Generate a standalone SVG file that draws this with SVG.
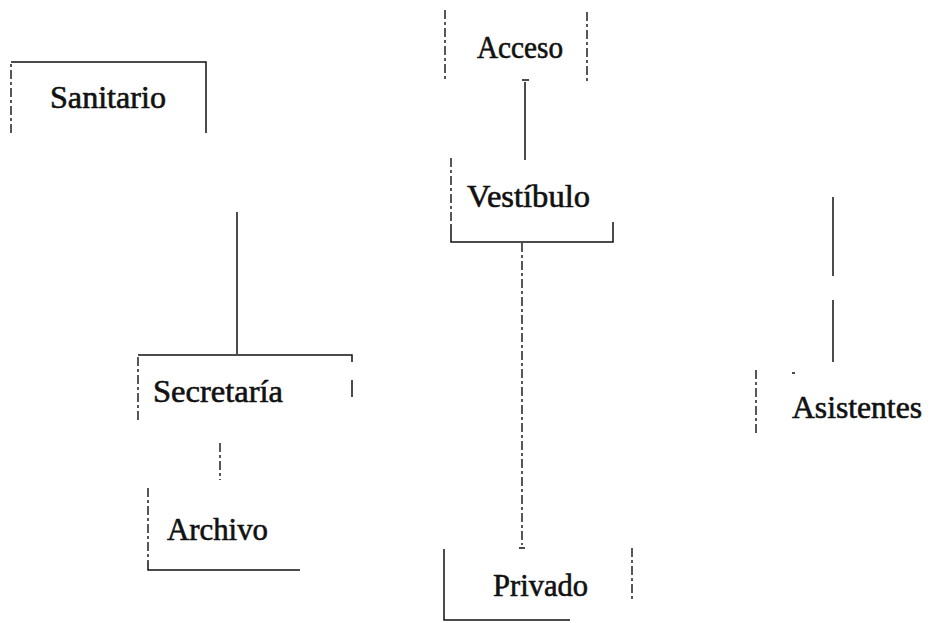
<svg xmlns="http://www.w3.org/2000/svg" width="932" height="623" viewBox="0 0 932 623">
<style>
.bg{fill:#ffffff}
.ln{fill:none;stroke:#111;stroke-width:1.5;stroke-linecap:butt}
.ds{fill:none;stroke:#111;stroke-width:1.4;stroke-dasharray:9 3 3 3}
.lb{font-family:"Liberation Serif","Times New Roman",serif;font-size:31px;fill:#111;stroke:#111;stroke-width:0.6}
</style>
<rect class="bg" x="0" y="0" width="932" height="623"/>
<g id="connectors">
  <path class="ln" d="M525,82 V160"/>
  <path class="ln" d="M522,80 H529"/>
  <path class="ln" d="M237,212 V354"/>
  <path class="ds" d="M522,243 V545"/>
  <path class="ln" d="M519,548 H525"/>
  <path class="ds" d="M220,443 V480"/>
  <path class="ln" d="M833,197 V276"/>
  <path class="ln" d="M833,300 V362"/>
</g>
<g id="node-sanitario">
  <path class="ds" d="M11,133 V62"/>
  <path class="ln" d="M11,62 H206 V133"/>
  <text class="lb" x="50" y="108" textLength="116" lengthAdjust="spacingAndGlyphs">Sanitario</text>
</g>
<g id="node-acceso">
  <path class="ds" d="M445,10 V80"/>
  <path class="ds" d="M587,12 V84"/>
  <text class="lb" x="477" y="58" textLength="86" lengthAdjust="spacingAndGlyphs">Acceso</text>
</g>
<g id="node-vestibulo">
  <path class="ds" d="M451,158 V225"/>
  <path class="ln" d="M451,225 V242 H613 V222"/>
  <text class="lb" x="467" y="207" textLength="123" lengthAdjust="spacingAndGlyphs">Vestíbulo</text>
</g>
<g id="node-secretaria">
  <path class="ds" d="M138,420 V355"/>
  <path class="ln" d="M138,355 H352 V362"/>
  <path class="ln" d="M352,380 V397"/>
  <text class="lb" x="153" y="402" textLength="130" lengthAdjust="spacingAndGlyphs">Secretaría</text>
</g>
<g id="node-archivo">
  <path class="ds" d="M148,488 V562"/>
  <path class="ln" d="M148,562 V570 H300"/>
  <text class="lb" x="167" y="540" textLength="101" lengthAdjust="spacingAndGlyphs">Archivo</text>
</g>
<g id="node-privado">
  <path class="ln" d="M444,549 V620 H570"/>
  <path class="ds" d="M632,548 V600"/>
  <text class="lb" x="493" y="596" textLength="95" lengthAdjust="spacingAndGlyphs">Privado</text>
</g>
<g id="node-asistentes">
  <path class="ds" d="M756,370 V433"/>
  <path class="ln" d="M792,373 H795"/>
  <text class="lb" x="792" y="418" textLength="130" lengthAdjust="spacingAndGlyphs">Asistentes</text>
</g>
</svg>
